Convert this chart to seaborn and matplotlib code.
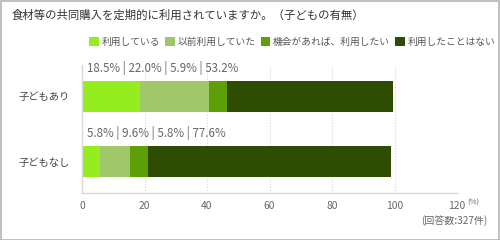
import matplotlib
matplotlib.use("Agg")
import matplotlib.pyplot as plt
from matplotlib.patches import Patch, Rectangle
import numpy as np
import pandas as pd
import seaborn as sns

# Survey data: share of each answer by household type (%)
groups = ["子どもあり", "子どもなし"]
answers = ["利用している", "以前利用していた", "機会があれば、利用したい", "利用したことはない"]
using_now = [18.5, 5.8]
used_before = [22.0, 9.6]
want_to_use = [5.9, 5.8]
never_used = [53.2, 77.6]
colors = ["#95EC1E", "#A0C86B", "#5F9F06", "#2E4D02"]
x_ticks = [0, 20, 40, 60, 80, 100, 120]
title = "食材等の共同購入を定期的に利用されていますか。（子どもの有無）"
respondents = "(回答数:327件)"

sns.set_theme(style="white")
plt.rcParams["font.family"] = ["Noto Sans CJK JP", "DejaVu Sans"]

series = [using_now, used_before, want_to_use, never_used]
cum = np.cumsum(np.array(series), axis=0)

fig = plt.figure(figsize=(5, 2.4), dpi=100)
ax = fig.add_axes([0.164, 0.196, 0.75, 0.533])

# Stacked bars: draw cumulative totals from the outermost segment inward
for i in range(len(answers) - 1, -1, -1):
    df = pd.DataFrame({"group": groups, "value": cum[i]})
    sns.barplot(data=df, x="value", y="group", orient="h", color=colors[i],
                saturation=1, width=0.48, ax=ax, linewidth=0)

ax.set_xlim(0, 120)
ax.set_ylim(1.48, -0.48)
ax.set_xticks(x_ticks)
ax.set_xticklabels([str(t) for t in x_ticks])
ax.set_xlabel("")
ax.set_ylabel("")
ax.tick_params(axis="x", labelsize=7.4, length=0, pad=6)
ax.tick_params(axis="y", labelsize=7.4, length=0, pad=9)
for lab in ax.get_xticklabels():
    lab.set_color("#666666")
for lab in ax.get_yticklabels():
    lab.set_color("#444444")
ax.set_axisbelow(True)
ax.grid(axis="x", color="#d8d8d8", linestyle=(0, (1, 1.5)), linewidth=0.8)
ax.grid(axis="y", visible=False)
for side in ["top", "right"]:
    ax.spines[side].set_visible(False)
for side in ["left", "bottom"]:
    ax.spines[side].set_color("#d8d8d8")
    ax.spines[side].set_linewidth(1.0)

# Percentage breakdown above each bar
for j, g in enumerate(groups):
    txt = " | ".join(f"{s[j]:.1f}%" for s in series)
    ax.text(1.5, j - 0.44, txt, ha="left", va="center", fontsize=8.3,
            color="#666666")

# Title and legend
fig.text(0.024, 0.935, title, ha="left", va="center", fontsize=8.2,
         color="#333333")
handles = [Patch(facecolor=c, edgecolor="none", label=a) for c, a in zip(colors, answers)]
fig.legend(handles=handles, loc="center right", bbox_to_anchor=(0.99, 0.826),
           ncol=4, frameon=False, fontsize=7.0, handlelength=1.0, handleheight=1.1,
           handletextpad=0.25, columnspacing=0.55, labelcolor="#555555",
           borderaxespad=0, borderpad=0)

fig.text(0.934, 0.155, "(%)", ha="left", va="center", fontsize=5.5, color="#666666")
fig.text(0.975, 0.08, respondents, ha="right", va="center", fontsize=7.2,
         color="#666666")

# Outer frame
fig.patches.append(Rectangle((0.001, 0.002), 0.996, 0.994, transform=fig.transFigure,
                             fill=False, edgecolor="#b5b5b5", linewidth=1.2))

fig.savefig("out.png", dpi=100, facecolor="white")
